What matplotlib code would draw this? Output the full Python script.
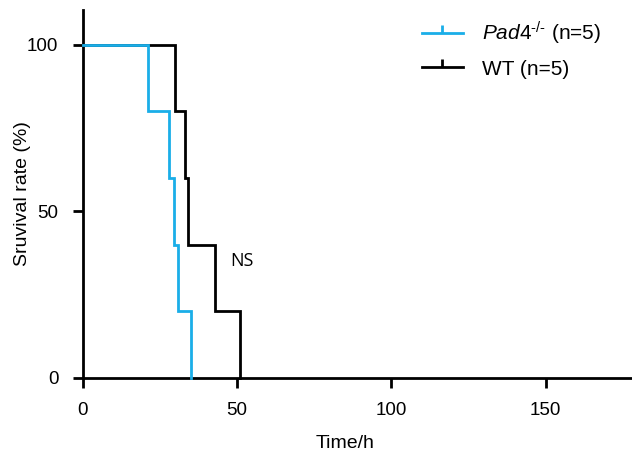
import matplotlib
matplotlib.use("Agg")
import matplotlib.pyplot as plt
from matplotlib.path import Path
from matplotlib.lines import Line2D

plt.rcParams["mathtext.fontset"] = "custom"
plt.rcParams["mathtext.rm"] = "Liberation Sans"
plt.rcParams["mathtext.it"] = "Liberation Sans:italic"
plt.rcParams["mathtext.bf"] = "Liberation Sans:bold"

# Kaplan-Meier step data
pad4_time = [0, 21, 28, 29.5, 31, 35]
pad4_surv = [100, 80, 60, 40, 20, 0]
wt_time = [0, 30, 33, 34, 43, 51]
wt_surv = [100, 80, 60, 40, 20, 0]
x_ticks = [0, 50, 100, 150]
y_ticks = [0, 50, 100]
legend_labels = [r"$\mathit{Pad4}^{\mathit{\text{-/-}}}$ (n=5)", "WT (n=5)"]

blue = "#1aaee8"
black = "#000000"

fig = plt.figure(figsize=(6.32, 4.66), dpi=100)
ax = fig.add_axes([0.131, 0.189, 0.869, 0.79])

def steps(t, s):
    xs, ys = [t[0]], [s[0]]
    for i in range(1, len(t)):
        xs += [t[i], t[i]]
        ys += [s[i-1], s[i]]
    return xs, ys

xb, yb = steps(wt_time, wt_surv)
ax.plot(xb, yb, color=black, lw=2, solid_joinstyle="miter", clip_on=False, zorder=3)
xp, yp = steps(pad4_time, pad4_surv)
ax.plot(xp, yp, color=blue, lw=2, solid_joinstyle="miter", clip_on=False, zorder=4)

ax.set_xlim(0, 178)
ax.set_ylim(0, 110.5)
ax.set_xticks(x_ticks)
ax.set_yticks(y_ticks)
for s in ["top", "right"]:
    ax.spines[s].set_visible(False)
for s in ["left", "bottom"]:
    ax.spines[s].set_linewidth(2)
ax.tick_params(width=2, length=7.5, labelsize=13.5)
ax.tick_params(axis="x", pad=10)
ax.tick_params(axis="y", pad=10)
for lab in ax.get_xticklabels() + ax.get_yticklabels():
    lab.set_family("Liberation Sans")

ax.set_xlabel("Time/h", fontsize=14, family="Liberation Sans")
ax.xaxis.set_label_coords(0.477, -0.155)
ax.set_ylabel("Sruvival rate (%)", fontsize=14, family="Liberation Sans")
ax.yaxis.set_label_coords(-0.095, 0.5)

ax.text(51.6, 35, "NS", fontsize=13, family="Open Sans", ha="center", va="center")

tick_marker = Path([(0, 0), (0, 1)], [Path.MOVETO, Path.LINETO])
handles = [
    Line2D([0], [0], color=blue, lw=2, marker=tick_marker, markersize=11, markeredgewidth=2),
    Line2D([0], [0], color=black, lw=2, marker=tick_marker, markersize=11, markeredgewidth=2),
]
leg = fig.legend(handles, legend_labels,
                 loc="upper left", bbox_to_anchor=(422 / 632, 1 - 20 / 466),
                 frameon=False, borderpad=0, borderaxespad=0,
                 prop={"family": "Liberation Sans", "size": 15},
                 handlelength=1.95, handletextpad=0.95, labelspacing=0.6)
fig.savefig("out.png", dpi=100)
